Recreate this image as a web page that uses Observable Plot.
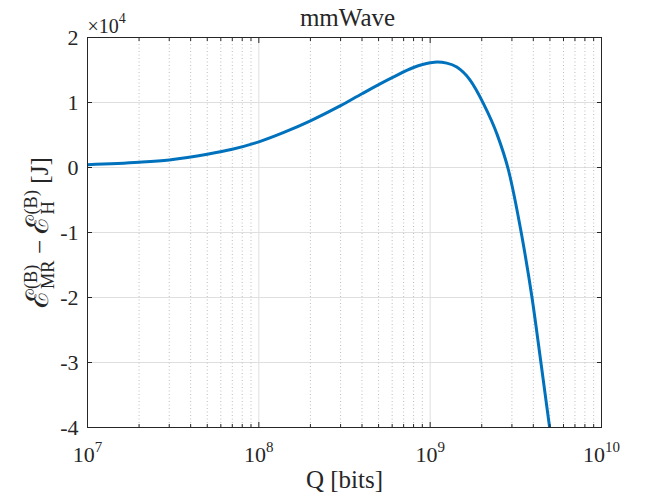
<!DOCTYPE html>
<html><head><meta charset="utf-8">
<script src="https://cdn.jsdelivr.net/npm/d3@7"></script>
<script src="https://cdn.jsdelivr.net/npm/@observablehq/plot@0.6"></script>
<style>
html,body{margin:0;padding:0;background:#fff;}
#chart{width:664px;height:498px;}
</style>
</head><body><div id="chart"></div>
<script>
// ---- data ----
const Q = [1.0e7, 2.0e7, 3.0e7, 5.0e7, 7.0e7, 1.0e8, 1.4e8, 2.0e8, 3.0e8, 4.0e8, 6.0e8, 8.0e8,
           1.0e9, 1.1e9, 1.25e9, 1.43e9, 1.71e9, 2.05e9, 2.45e9, 2.87e9, 3.41e9, 3.93e9, 4.43e9, 4.98e9];
const dE = [430, 800, 1170, 2030, 2800, 3950, 5400, 7180, 9510, 11350, 13820, 15380,
            16100, 16220, 16060, 15450, 13450, 9800, 5200, -500, -10200, -20000, -30000, -40000];
const majorX = [1e7, 1e8, 1e9, 1e10];
const xExponents = ["7", "8", "9", "10"];
const minorX = [2e7, 3e7, 4e7, 5e7, 6e7, 7e7, 8e7, 9e7,
                2e8, 3e8, 4e8, 5e8, 6e8, 7e8, 8e8, 9e8,
                2e9, 3e9, 4e9, 5e9, 6e9, 7e9, 8e9, 9e9];
const yTicks = [-40000, -30000, -20000, -10000, 0, 10000, 20000];
const yTickLabels = ["-4", "-3", "-2", "-1", "0", "1", "2"];
const titleText = "mmWave";
const xLabelText = "Q [bits]";
const yLabelText = "ℰMR − ℰH [J]";
const multiplierText = "×10^4";

const data = Q.map((q, i) => ({q, e: dE[i]}));
const FONT = "'Liberation Serif', 'DejaVu Serif', serif";
const INK = "#262626";

const plot = Plot.plot({
  width: 664, height: 498,
  marginLeft: 87, marginRight: 63, marginTop: 37, marginBottom: 71,
  style: {fontFamily: FONT, fontSize: "21px", background: "#fff", color: INK},
  x: {type: "log", domain: [1e7, 1e10], label: null},
  y: {domain: [-40000, 20000], label: null},
  marks: [
    Plot.gridY(yTicks, {stroke: "#dfdfdf", strokeOpacity: 1}),
    Plot.gridX(minorX, {stroke: "#bdbdbd", strokeOpacity: 1, strokeDasharray: "1,2.5"}),
    Plot.gridX(majorX, {stroke: "#dfdfdf", strokeOpacity: 1}),
    Plot.line(data, {x: "q", y: "e", stroke: "#0072BD", strokeWidth: 3, curve: "monotone-x", clip: true}),
    Plot.frame({stroke: INK, strokeWidth: 1}),
    // inward ticks
    Plot.axisX(majorX, {anchor: "bottom", tickSize: -5, tickFormat: () => "", stroke: INK, label: null}),
    Plot.axisX(majorX, {anchor: "top", tickSize: -5, tickFormat: () => "", stroke: INK, label: null}),
    Plot.axisX(minorX, {anchor: "bottom", tickSize: -3, tickFormat: () => "", stroke: INK, label: null}),
    Plot.axisX(minorX, {anchor: "top", tickSize: -3, tickFormat: () => "", stroke: INK, label: null}),
    Plot.axisY(yTicks, {anchor: "left", tickSize: -5, tickFormat: () => "", stroke: INK, label: null}),
    Plot.axisY(yTicks, {anchor: "right", tickSize: -5, tickFormat: () => "", stroke: INK, label: null}),
    // tick labels
    Plot.axisY(yTicks, {anchor: "left", tickSize: 0, tickPadding: 9, fontSize: 22, fill: INK,
      tickFormat: d => yTickLabels[yTicks.indexOf(d)], label: null}),
    Plot.axisX(majorX, {anchor: "bottom", tickSize: 0, tickPadding: 19, fontSize: 22, fill: INK,
      tickFormat: d => "10^" + xExponents[majorX.indexOf(d)], label: null}),
    // titles
    Plot.text([titleText], {frameAnchor: "top", lineAnchor: "bottom", dy: -12, dx: 3, fontSize: 25, fill: INK}),
    Plot.text([xLabelText], {frameAnchor: "bottom", lineAnchor: "bottom", dy: 60, fontSize: 25, fill: INK}),
    Plot.text([multiplierText], {frameAnchor: "top-left", textAnchor: "start", lineAnchor: "bottom", dy: -5, dx: 0, fontSize: 20, fill: INK}),
    Plot.text([yLabelText], {frameAnchor: "left", lineAnchor: "bottom", rotate: -90, dx: -40, dy: 0, fontSize: 22, fill: INK})
  ]
});
document.getElementById("chart").appendChild(plot);

const svg = d3.select(plot);
svg.selectAll("text").attr("font-family", FONT);

// power-of-ten labels with superscripts
svg.selectAll("text").each(function() {
  const t = this.textContent;
  if (t.includes("^")) {
    const [base, exp] = t.split("^");
    const sz = parseFloat(getComputedStyle(this).fontSize) || 21;
    this.textContent = "";
    const s = d3.select(this);
    s.append("tspan").text(base);
    s.append("tspan").attr("font-size", Math.round(sz * 0.7)).attr("dy", -sz * 0.46).text(exp);
  }
});

// y label with stacked super/subscripts, scaled to the reference length
svg.selectAll("text").filter(function() { return this.textContent === yLabelText; }).each(function() {
  const node = this;
  const s = d3.select(node).attr("text-anchor", "start");
  const targetLength = 150;
  function build(k) {
    node.textContent = "";
    const big = 27 * k, small = 16 * k, norm = 22 * k, up = 9 * k, down = 6 * k;
    s.append("tspan").attr("font-size", big).text("ℰ");
    const b1 = s.append("tspan").attr("font-size", small).attr("dy", -up).text("(B)");
    const mr = s.append("tspan").attr("font-size", small).attr("dy", up + down).text("MR");
    const minus = s.append("tspan").attr("font-size", norm).attr("dy", -down).text(" − ");
    s.append("tspan").attr("font-size", big).text("ℰ");
    const b2 = s.append("tspan").attr("font-size", small).attr("dy", -up).text("(B)");
    const h = s.append("tspan").attr("font-size", small).attr("dy", up + down).text("H");
    const rest = s.append("tspan").attr("font-size", norm).attr("dy", -down).text(" [J]");
    const wB = b1.node().getComputedTextLength();
    const wMR = mr.node().getComputedTextLength();
    const wH = h.node().getComputedTextLength();
    mr.attr("dx", -wB);
    if (wB > wMR) minus.attr("dx", wB - wMR);
    h.attr("dx", -wB);
    if (wB > wH) rest.attr("dx", wB - wH);
  }
  build(1);
  let bb = node.getBBox();
  const k = Math.max(0.7, Math.min(1.4, targetLength / bb.width));
  build(k);
  bb = node.getBBox();
  s.attr("x", -(bb.x + bb.width / 2));
});
</script>
</body></html>
